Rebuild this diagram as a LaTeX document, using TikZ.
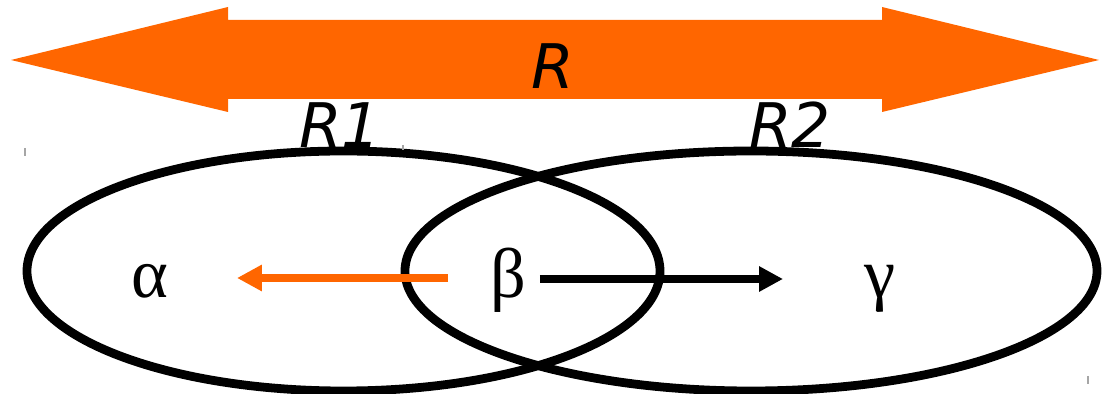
\documentclass[tikz,border=0pt]{standalone}
\usepackage{fontspec}
\setmainfont{Liberation Serif}
\newfontfamily\labelfont{DejaVu Sans}
\usetikzlibrary{arrows.meta}
\definecolor{relorange}{RGB}{255,102,0}

\begin{document}
\begin{tikzpicture}[x=0.02cm,y=-0.02cm,
  setring/.style={draw=black,line width=5pt},
  relname/.style={font=\fontsize{35}{40}\selectfont\labelfont\itshape,inner sep=0pt},
  attr/.style={font=\fontsize{40}{44}\selectfont,inner sep=0pt,anchor=base},
  fdleft/.style={draw=relorange,line width=4.5pt,-{Triangle[length=0.5cm,width=0.5cm]}},
  fdright/.style={draw=black,line width=4.8pt,-{Triangle[length=0.48cm,width=0.48cm]}},
  tick/.style={draw=gray!70,line width=0.6pt}]

\useasboundingbox (0,0) rectangle (1103,394);

\fill[relorange] (11,60) -- (228,7) -- (228,20) -- (882,20) -- (882,7) -- (1099,60)
  -- (882,112) -- (882,99) -- (228,99) -- (228,112) -- cycle;
\node[relname] (rall) at (553,66) {R};
\node[relname] (rone) at (340,125) {R1};
\node[relname] (rtwo) at (790,125) {R2};

\draw[setring] (343.5,271) ellipse [x radius=316.5,y radius=120];
\draw[setring] (751,271) ellipse [x radius=346,y radius=120];

\node[attr] (alpha) at (150,298) {α};
\node[attr] (beta) at (508,298) {β};
\node[attr] (gamma) at (880,298) {γ};

\coordinate (alphaend) at (237,278);
\coordinate (gammaend) at (783,279);
\draw[fdleft] ([xshift=-1.2cm]beta.base |- alphaend) -- (alphaend);
\draw[fdright] ([xshift=0.64cm]beta.base |- gammaend) -- (gammaend);

\draw[tick] (25,148) -- (25,156);
\draw[tick] (403,145) -- (403,150);
\draw[tick] (1088,376) -- (1088,384);
\end{tikzpicture}
\end{document}
